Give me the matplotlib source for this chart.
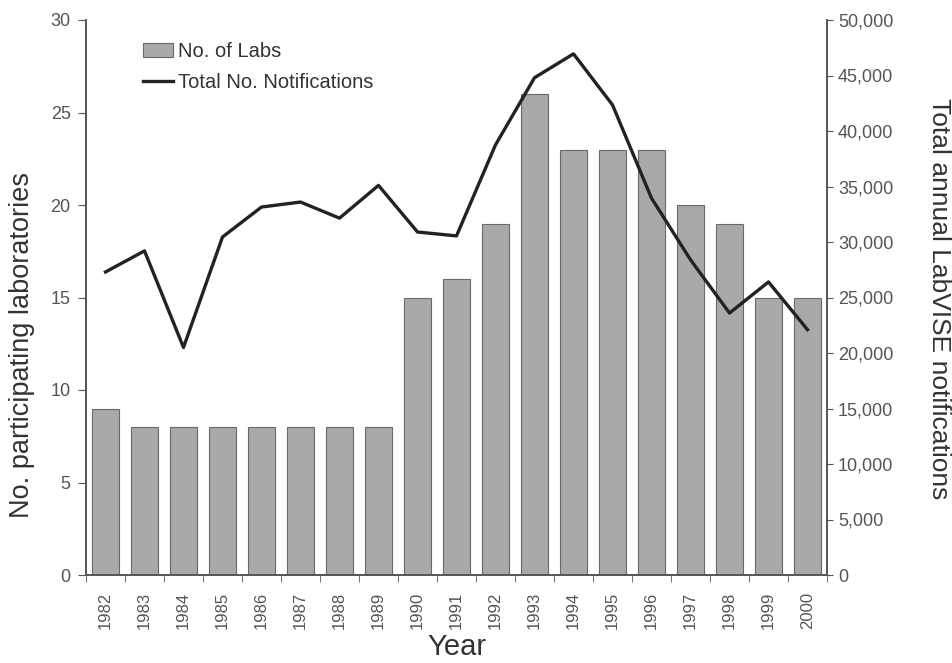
import numpy as np
import matplotlib.pyplot as plt
from matplotlib.ticker import FuncFormatter

plt.rcParams['font.family'] = ['Liberation Sans', 'DejaVu Sans']

years = [str(y) for y in range(1982, 2001)]
labs = [9, 8, 8, 8, 8, 8, 8, 8, 15, 16, 19, 26, 23, 23, 23, 20, 19, 15, 15]
notifications = [27300, 29200, 20500, 30450, 33150, 33600, 32150, 35100, 30900, 30550,
                 38750, 44800, 46950, 42350, 33950, 28400, 23600, 26400, 22100]

fig = plt.figure(figsize=(9.53, 6.63), dpi=100)
# axes box: x 86..827 px, y 20..575 px
ax = fig.add_axes([86 / 953, 88 / 663, 741 / 953, 555 / 663])
ax2 = ax.twinx()

x = np.arange(len(years))
bars = ax.bar(x, labs, width=0.7, color='#a9a9a9', edgecolor='#6a6a6a', linewidth=0.8,
              label='No. of Labs', zorder=2)
line, = ax2.plot(x, notifications, color='#222222', lw=2.4, label='Total No. Notifications',
                 zorder=3)

ax.set_xlim(-0.5, len(years) - 0.5)
ax.set_ylim(0, 30)
ax.set_yticks(range(0, 31, 5))
ax2.set_ylim(0, 50000)
ax2.set_yticks(range(0, 50001, 5000))
ax2.yaxis.set_major_formatter(FuncFormatter(lambda v, p: f'{int(v):,}'))

ax.set_xticks(x)
ax.set_xticklabels(years, rotation=90, fontsize=12, color='#555555')
ax.set_xticks(np.arange(-0.5, len(years)), minor=True)
ax.tick_params(axis='x', which='major', length=0, pad=12)
ax.tick_params(axis='x', which='minor', length=5, color='#555555')
ax.tick_params(axis='y', labelsize=13, colors='#555555', length=6, pad=5)
ax2.tick_params(axis='y', labelsize=13, colors='#555555', length=4.5, pad=3.5)

for a in (ax, ax2):
    a.spines['top'].set_visible(False)
    for s in ('left', 'right', 'bottom'):
        a.spines[s].set_color('#555555')
        a.spines[s].set_linewidth(1.2)

ax.set_ylabel('No. participating laboratories', fontsize=19.5, color='#333333')
ax.yaxis.set_label_coords(-0.0864, 0.414)
ax.yaxis.label.set_va('center')
ax2.set_ylabel('Total annual LabVISE notifications', fontsize=19, color='#333333',
               rotation=270)
ax2.yaxis.set_label_coords(1.151, 0.497)
ax2.yaxis.label.set_va('center')
ax.set_xlabel('Year', fontsize=21, color='#333333', labelpad=3)

ax.set_zorder(ax2.get_zorder() - 1)
ax.patch.set_visible(False)
ax2.patch.set_visible(False)

ax2.legend([bars, line], ['No. of Labs', 'Total No. Notifications'], loc='upper left',
           bbox_to_anchor=(0.0769, 0.961), frameon=False, fontsize=14.5,
           borderaxespad=0, borderpad=0,
           handlelength=1.5, handletextpad=0.25, labelspacing=0.6,
           labelcolor='#333333')

fig.savefig('out.png', dpi=100)
